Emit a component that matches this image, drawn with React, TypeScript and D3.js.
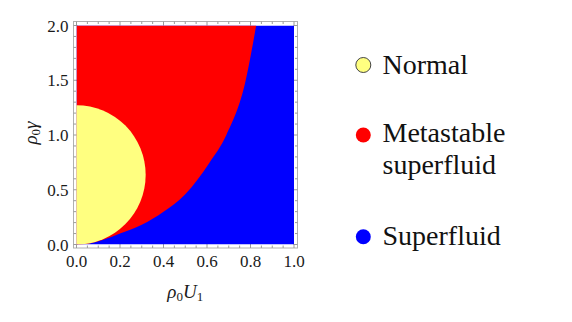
import React from "react";
import * as d3 from "d3";

// Boundary between metastable superfluid (left) and superfluid (right): [ρ0U1, ρ0γ]
const boundaryU = [0.0, 0.03, 0.06, 0.12, 0.2, 0.3, 0.4, 0.5, 0.612, 0.689, 0.778, 0.826];
const boundaryG = [0.0, 0.003, 0.01, 0.041, 0.1, 0.18, 0.3, 0.46, 0.75, 1.0, 1.5, 2.0];

// Normal phase region: half-ellipse touching the γ axis
const normalCenterG = 0.636;
const normalRadiusU = 0.318;
const normalRadiusG = 0.636;

const xTicks = [0, 0.2, 0.4, 0.6, 0.8, 1.0];
const yTicks = [0, 0.5, 1.0, 1.5, 2.0];
const xMinor = d3.range(0, 1.0001, 0.05);
const yMinor = d3.range(0, 2.0001, 0.1);

const legendLabels = [["Normal"], ["Metastable", "superfluid"], ["Superfluid"]];
const legendColors = ["#ffff80", "#ff0000", "#0000ff"];

const W = 572;
const H = 322;

export default function App() {
  const x = d3.scaleLinear().domain([0, 1]).range([76.5, 294]);
  const y = d3.scaleLinear().domain([0, 2]).range([244.5, 25.5]);
  const fL = 73.5, fR = 297.5, fT = 21.5, fB = 248;

  const pts: [number, number][] = boundaryU.map((u, i) => [u, boundaryG[i]]);
  const curvePath = d3
    .line<[number, number]>()
    .x((d) => x(d[0]))
    .y((d) => y(d[1]))
    .curve(d3.curveMonotoneX)(pts) as string;
  const redPath = `${curvePath} L${x(0)},${y(2)} L${x(0)},${y(0)} Z`;

  const serif = "'Liberation Serif', 'Times New Roman', Tinos, 'DejaVu Serif', serif";
  const tickCol = "#9a9a9a";
  const ts = { fontFamily: serif } as React.CSSProperties;

  return (
    <svg width={W} height={H} style={{ position: "absolute", left: 0, top: 0 }}>
      <rect x={0} y={0} width={W} height={H} fill="#fff" />
      <defs>
        <clipPath id="plotClip">
          <rect x={x(0)} y={y(2)} width={x(1) - x(0)} height={y(0) - y(2)} />
        </clipPath>
      </defs>
      {/* frame */}
      <rect x={fL} y={fT} width={fR - fL} height={fB - fT} fill="none" stroke="#b0b0b0" strokeWidth={1} />
      {/* ticks */}
      <g stroke={tickCol} strokeWidth={1}>
        {xMinor.map((v, i) => {
          const major = xTicks.some((t) => Math.abs(t - v) < 1e-6);
          const len = major ? 4 : 2.5;
          return (
            <g key={"xt" + i}>
              <line x1={x(v)} x2={x(v)} y1={fB} y2={fB - len} />
              <line x1={x(v)} x2={x(v)} y1={fT} y2={fT + len} />
            </g>
          );
        })}
        {yMinor.map((v, i) => {
          const major = yTicks.some((t) => Math.abs(t - v) < 1e-6);
          const len = major ? 4 : 2.5;
          return (
            <g key={"yt" + i}>
              <line x1={fL} x2={fL + len} y1={y(v)} y2={y(v)} />
              <line x1={fR} x2={fR - len} y1={y(v)} y2={y(v)} />
            </g>
          );
        })}
      </g>
      {/* regions */}
      <g clipPath="url(#plotClip)">
        <rect x={x(0)} y={y(2)} width={x(1) - x(0)} height={y(0) - y(2)} fill="#0000ff" />
        <path d={redPath} fill="#ff0000" />
        <ellipse
          cx={x(0)}
          cy={y(normalCenterG)}
          rx={x(normalRadiusU) - x(0)}
          ry={y(0) - y(normalRadiusG)}
          fill="#ffff80"
        />
      </g>
      {/* tick labels */}
      <g fontSize={17} fill="#1a1a1a">
        {xTicks.map((v) => (
          <text key={"xl" + v} x={x(v)} y={266.5} textAnchor="middle" style={ts}>
            {v.toFixed(1)}
          </text>
        ))}
        {yTicks.map((v) => (
          <text key={"yl" + v} x={68.5} y={y(v) + 6} textAnchor="end" style={ts}>
            {v.toFixed(1)}
          </text>
        ))}
      </g>
      {/* axis titles */}
      <text x={(x(0) + x(1)) / 2} y={298} textAnchor="middle" fontSize={19} fill="#1a1a1a" style={ts}>
        <tspan fontStyle="italic">ρ</tspan>
        <tspan fontSize={13} dy={3}>0</tspan>
        <tspan fontStyle="italic" dy={-3}>U</tspan>
        <tspan fontSize={13} dy={3}>1</tspan>
      </text>
      <text
        transform={`translate(37, ${133}) rotate(-90)`}
        textAnchor="middle"
        fontSize={19}
        fill="#1a1a1a"
        style={ts}
      >
        <tspan fontStyle="italic">ρ</tspan>
        <tspan fontSize={13} dy={3}>0</tspan>
        <tspan fontStyle="italic" dy={-3}>γ</tspan>
      </text>
      {/* legend */}
      {legendLabels.map((lines, i) => {
        const cy = [65, 135, 236.7][i];
        const base = [74.3, 141.7, 245][i];
        return (
          <g key={"lg" + i}>
            <circle
              cx={363.3}
              cy={cy}
              r={7.5}
              fill={legendColors[i]}
              stroke={i === 0 ? "#444" : "none"}
              strokeWidth={1}
            />
            <text x={382.5} y={base} fontSize={28} fill="#111" style={ts}>
              {lines.map((l, j) => (
                <tspan key={j} x={382.5} dy={j === 0 ? 0 : 32.5}>
                  {l}
                </tspan>
              ))}
            </text>
          </g>
        );
      })}
    </svg>
  );
}
